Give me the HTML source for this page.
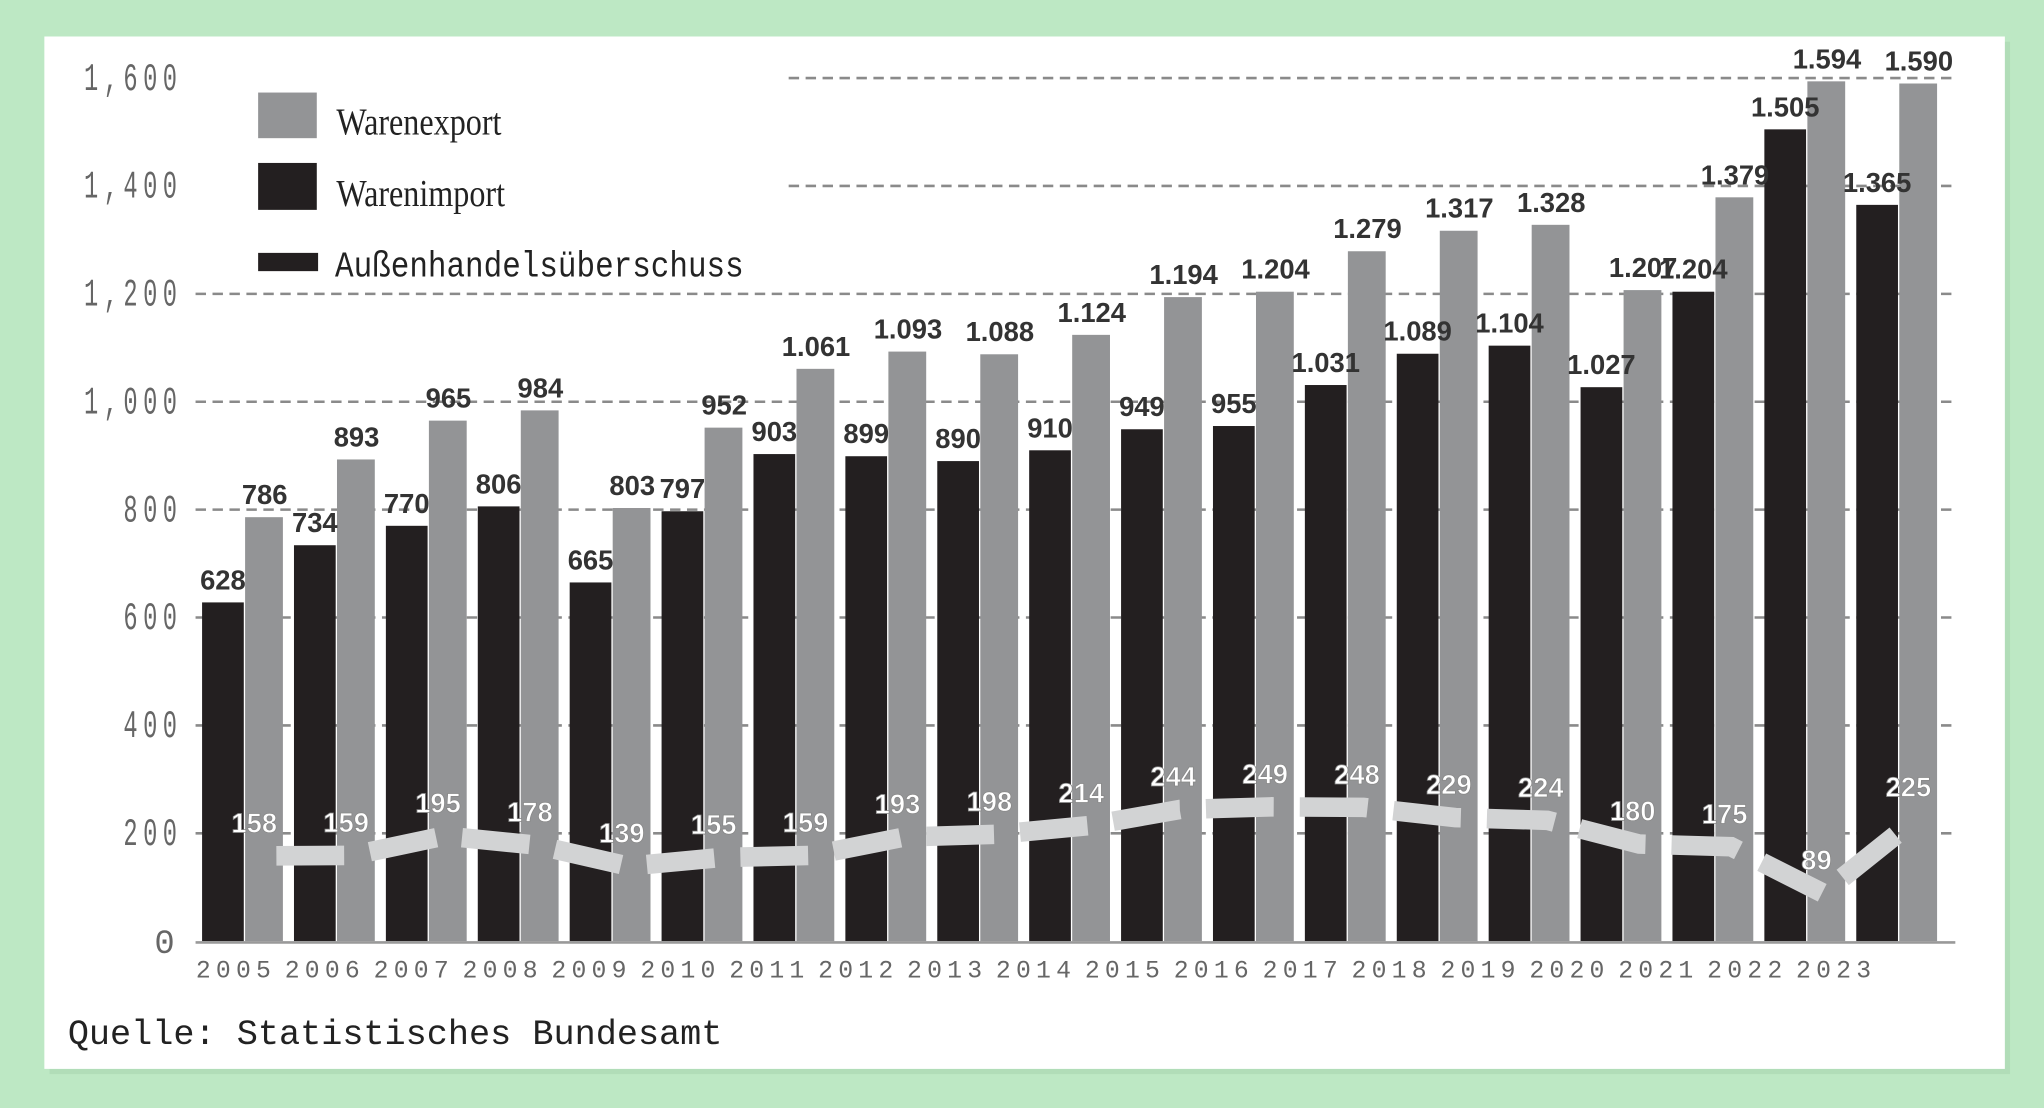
<!DOCTYPE html>
<html><head><meta charset="utf-8"><style>
html,body{margin:0;padding:0;background:#bde8c4;}
svg{display:block;}
</style></head><body>
<svg id="s" width="2044" height="1108" viewBox="0 0 1568 850" xmlns="http://www.w3.org/2000/svg">
<defs><pattern id="dots" width="4" height="4" patternUnits="userSpaceOnUse"><rect width="1" height="1" fill="#7a9"/></pattern></defs>
<rect x="0" y="0" width="1568" height="850" fill="#bde8c4"/>
<rect x="38" y="32" width="1504" height="792" fill="#a9d6b0" opacity="0.6"/>
<rect x="34" y="28" width="1504" height="792" fill="#ffffff"/>
<g id="grid" stroke="#8a8a8a" stroke-width="2" stroke-dasharray="8 5"></g>
<g id="bars"></g>
<line x1="150" y1="723" x2="1500" y2="723" stroke="#999" stroke-width="2"/>
<polyline id="sur" fill="none" stroke="#d2d3d4" stroke-width="15" stroke-dasharray="52 20" stroke-dashoffset="-12"/>
<g id="labels" font-family="Liberation Sans, sans-serif" font-weight="bold" font-size="21" text-anchor="middle"></g>
<g id="yl" font-family="Liberation Mono, monospace" fill="#666" font-size="26" text-anchor="end"></g>
<g id="xl" font-family="Liberation Mono, monospace" fill="#666" font-size="19" text-anchor="middle" letter-spacing="4"></g>
<rect x="198" y="71" width="45" height="35" fill="#939496"/>
<rect x="198" y="125" width="45" height="36" fill="#231f20"/>
<rect x="198" y="194" width="46" height="14" fill="#231f20"/>
<g font-family="Liberation Serif, serif" font-size="29" fill="#222">
<text x="258" y="103" transform="translate(258 103) scale(0.85 1) translate(-258 -103)">Warenexport</text>
<text x="258" y="158" transform="translate(258 158) scale(0.85 1) translate(-258 -158)">Warenimport</text>
</g>
<text x="257" y="212" font-family="Liberation Mono, monospace" font-size="25" fill="#222" transform="translate(257 212) scale(0.95 1.1) translate(-257 -212)">Außenhandelsüberschuss</text>
<text x="52" y="801" font-family="Liberation Mono, monospace" font-size="27" fill="#222">Quelle: Statistisches Bundesamt</text>
</svg>
<script>
var NS="http://www.w3.org/2000/svg";
function el(p,t,a,txt){var e=document.createElementNS(NS,t);for(var k in a)e.setAttribute(k,a[k]);if(txt!==undefined)e.textContent=txt;document.getElementById(p).appendChild(e);return e;}
var imp=[628,734,770,806,665,797,903,899,890,910,949,955,1031,1089,1104,1027,1204,1505,1365];
var exp=[786,893,965,984,803,952,1061,1093,1088,1124,1194,1204,1279,1317,1328,1207,1379,1594,1590];
var sur=[158,159,195,178,139,155,159,193,198,214,244,249,248,229,224,180,175,89,225];
var Y=function(v){return 722-v*0.4138;};
function fmt(v){return v>=1000?(Math.floor(v/1000)+"."+String(v%1000).padStart(3,"0")):String(v);}
// grid
[200,400,600,800,1000,1200,1400,1600].forEach(function(v){
 var x1=(v>=1400)?605:150;
 el("grid","line",{x1:x1,y1:Y(v),x2:1500,y2:Y(v)});
 el("yl","text",{x:140,y:Y(v)+9,transform:"translate(140 "+(Y(v)+9)+") scale(0.7 1.15) translate(-140 "+(-(Y(v)+9))+")","letter-spacing":"6"},fmt(v).replace(".",","));
});
el("yl","text",{x:134,y:731},"0");
var pts=[];
for(var i=0;i<19;i++){
 var x0=155+i*70.5;
 el("bars","rect",{x:x0,y:Y(imp[i]),width:32,height:722-Y(imp[i]),fill:"#231f20"});
 el("bars","rect",{x:x0+33,y:Y(exp[i]),width:29,height:722-Y(exp[i]),fill:"#939496"});
 el("labels","text",{x:x0+16,y:Y(imp[i])-10,fill:"#333"},fmt(imp[i]));
 el("labels","text",{x:x0+48,y:Y(exp[i])-10,fill:"#333"},fmt(exp[i]));
 var cx=x0+45;
 pts.push(cx+","+Y(sur[i]));
 el("labels","text",{x:x0+40,y:Y(sur[i])-18,fill:"#fff",stroke:"#888","stroke-width":"0.6"},String(sur[i]));
 el("xl","text",{x:181+i*68.2,y:750},String(2005+i));
}
document.getElementById("sur").setAttribute("points",pts.join(" "));
</script>
</body></html>
